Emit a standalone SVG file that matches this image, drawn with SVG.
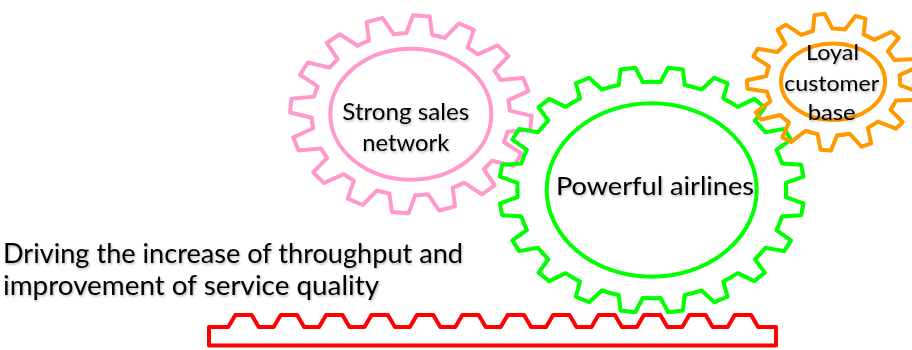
<svg xmlns="http://www.w3.org/2000/svg" xmlns:xlink="http://www.w3.org/1999/xlink" width="912" height="350" viewBox="0 0 912 350">
  <style>
    .gear { fill: none; stroke-width: 4; stroke-linejoin: round; stroke-linecap: round; }
    .hub { fill: none; stroke-width: 4; }
    .pink { stroke: #FF99CC; }
    .green { stroke: #00FF00; }
    .orange { stroke: #FF9900; }
    .rack { fill: none; stroke: #FF0000; stroke-width: 4; stroke-linejoin: round; }
    .lbl { font-family: Lato, "Liberation Sans", sans-serif; fill: #000000; filter: url(#soft-shadow); }
  </style>
  <defs>
    <filter id="soft-shadow" x="-5%" y="-30%" width="110%" height="160%">
      <feDropShadow dx="1" dy="1.5" stdDeviation="0.8" flood-color="#000000" flood-opacity="0.3"/>
    </filter>
    <!-- one tooth per pitch, drawn in a unit circle pointing up; root radius / tip radius = r0 -->
    <path id="tooth16" fill="none" vector-effect="non-scaling-stroke" d="M-0.16 -0.8043 L-0.107 -0.813 L-0.0698 -0.9976 L0.0698 -0.9976 L0.107 -0.813 L0.16 -0.8043"/>
    <path id="tooth20" fill="none" vector-effect="non-scaling-stroke" d="M-0.1376 -0.8692 L-0.0798 -0.8764 L-0.0488 -0.9988 L0.0488 -0.9988 L0.0798 -0.8764 L0.1376 -0.8692"/>
    <path id="tooth13" fill="none" vector-effect="non-scaling-stroke" d="M-0.1867 -0.7573 L-0.114 -0.7717 L-0.061 -0.9981 L0.061 -0.9981 L0.114 -0.7717 L0.1867 -0.7573"/>
  </defs>

  <g id="connectors"></g>

  <!-- sales network gear: 16 teeth -->
  <g id="node-sales">
    <g class="gear pink" transform="translate(410.8 114.2) scale(120.8 99)">
      <use href="#tooth16" transform="rotate(5)"/>
      <use href="#tooth16" transform="rotate(27.5)"/>
      <use href="#tooth16" transform="rotate(50)"/>
      <use href="#tooth16" transform="rotate(72.5)"/>
      <use href="#tooth16" transform="rotate(95)"/>
      <use href="#tooth16" transform="rotate(117.5)"/>
      <use href="#tooth16" transform="rotate(140)"/>
      <use href="#tooth16" transform="rotate(162.5)"/>
      <use href="#tooth16" transform="rotate(185)"/>
      <use href="#tooth16" transform="rotate(207.5)"/>
      <use href="#tooth16" transform="rotate(230)"/>
      <use href="#tooth16" transform="rotate(252.5)"/>
      <use href="#tooth16" transform="rotate(275)"/>
      <use href="#tooth16" transform="rotate(297.5)"/>
      <use href="#tooth16" transform="rotate(320)"/>
      <use href="#tooth16" transform="rotate(342.5)"/>
    </g>
    <ellipse class="hub pink" cx="410.8" cy="114.2" rx="80.5" ry="65.5"/>
    <text class="lbl" x="405.8" y="120" font-size="23" text-anchor="middle" textLength="127" lengthAdjust="spacingAndGlyphs">Strong sales</text>
    <text class="lbl" x="405.8" y="151" font-size="23" text-anchor="middle" textLength="87" lengthAdjust="spacingAndGlyphs">network</text>
  </g>

  <!-- airlines gear: 20 teeth -->
  <g id="node-airlines">
    <g class="gear green" transform="translate(651.7 190) scale(152.7 123)">
      <use href="#tooth20" transform="rotate(9)"/>
      <use href="#tooth20" transform="rotate(27)"/>
      <use href="#tooth20" transform="rotate(45)"/>
      <use href="#tooth20" transform="rotate(63)"/>
      <use href="#tooth20" transform="rotate(81)"/>
      <use href="#tooth20" transform="rotate(99)"/>
      <use href="#tooth20" transform="rotate(117)"/>
      <use href="#tooth20" transform="rotate(135)"/>
      <use href="#tooth20" transform="rotate(153)"/>
      <use href="#tooth20" transform="rotate(171)"/>
      <use href="#tooth20" transform="rotate(189)"/>
      <use href="#tooth20" transform="rotate(207)"/>
      <use href="#tooth20" transform="rotate(225)"/>
      <use href="#tooth20" transform="rotate(243)"/>
      <use href="#tooth20" transform="rotate(261)"/>
      <use href="#tooth20" transform="rotate(279)"/>
      <use href="#tooth20" transform="rotate(297)"/>
      <use href="#tooth20" transform="rotate(315)"/>
      <use href="#tooth20" transform="rotate(333)"/>
      <use href="#tooth20" transform="rotate(351)"/>
    </g>
    <ellipse class="hub green" cx="651.7" cy="190" rx="105" ry="86.7"/>
    <text class="lbl" x="655" y="195" font-size="25" text-anchor="middle" textLength="198" lengthAdjust="spacingAndGlyphs">Powerful airlines</text>
  </g>

  <!-- customer base gear: 13 teeth -->
  <g id="node-customers">
    <g class="gear orange" transform="translate(833 82) scale(86 68.5)">
      <use href="#tooth13" transform="rotate(-9)"/>
      <use href="#tooth13" transform="rotate(18.69)"/>
      <use href="#tooth13" transform="rotate(46.38)"/>
      <use href="#tooth13" transform="rotate(74.08)"/>
      <use href="#tooth13" transform="rotate(101.77)"/>
      <use href="#tooth13" transform="rotate(129.46)"/>
      <use href="#tooth13" transform="rotate(157.15)"/>
      <use href="#tooth13" transform="rotate(184.85)"/>
      <use href="#tooth13" transform="rotate(212.54)"/>
      <use href="#tooth13" transform="rotate(240.23)"/>
      <use href="#tooth13" transform="rotate(267.92)"/>
      <use href="#tooth13" transform="rotate(295.62)"/>
      <use href="#tooth13" transform="rotate(323.31)"/>
    </g>
    <ellipse class="hub orange" cx="833" cy="81.8" rx="52" ry="38.3"/>
    <text class="lbl" x="832.5" y="60" font-size="22" text-anchor="middle" textLength="53" lengthAdjust="spacingAndGlyphs">Loyal</text>
    <text class="lbl" x="831.7" y="91" font-size="22" text-anchor="middle" textLength="95" lengthAdjust="spacingAndGlyphs">customer</text>
    <text class="lbl" x="831.7" y="120" font-size="22" text-anchor="middle" textLength="48" lengthAdjust="spacingAndGlyphs">base</text>
  </g>

  <!-- toothed rack along the bottom -->
  <g id="node-rack">
    <path class="rack" d="M209 327 H228.3
      l7 -12 h16.4 l7 12 h15
      l7 -12 h16.4 l7 12 h15
      l7 -12 h16.4 l7 12 h15
      l7 -12 h16.4 l7 12 h15
      l7 -12 h16.4 l7 12 h15
      l7 -12 h16.4 l7 12 h15
      l7 -12 h16.4 l7 12 h15
      l7 -12 h16.4 l7 12 h15
      l7 -12 h16.4 l7 12 h15
      l7 -12 h16.4 l7 12 h15
      l7 -12 h16.4 l7 12 h15
      l7 -12 h16.4 l7 12
      H776 V345.5 H209 Z"/>
  </g>

  <g id="node-caption">
    <text class="lbl" x="3" y="263.3" font-size="26" textLength="460" lengthAdjust="spacingAndGlyphs">Driving the increase of throughput and</text>
    <text class="lbl" x="3" y="294.5" font-size="26" textLength="376" lengthAdjust="spacingAndGlyphs">improvement of service quality</text>
  </g>
</svg>
